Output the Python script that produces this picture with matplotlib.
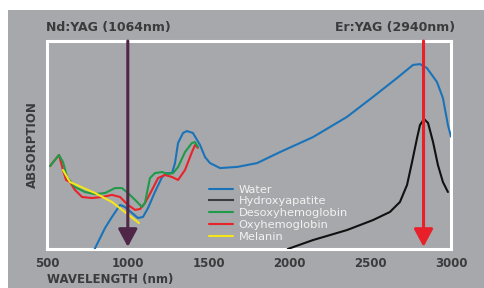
import matplotlib.pyplot as plt
from matplotlib.patches import Rectangle

# wavelength (nm) / relative absorption
water_wl = [795, 859, 902, 952, 983, 1026, 1063, 1094, 1125, 1168, 1212, 1243, 1274, 1292,
            1311, 1342, 1366, 1403, 1447, 1478, 1509, 1571, 1680, 1800, 1942, 2146, 2356,
            2517, 2666, 2765, 2808, 2851, 2913, 2950, 2981, 3000]
water_abs = [0.0, 0.101, 0.154, 0.212, 0.202, 0.173, 0.149, 0.154, 0.197, 0.274, 0.346,
             0.365, 0.365, 0.413, 0.510, 0.558, 0.567, 0.558, 0.500, 0.442, 0.413, 0.389,
             0.395, 0.413, 0.466, 0.538, 0.635, 0.731, 0.822, 0.885, 0.889, 0.870, 0.803,
             0.726, 0.596, 0.54]

hydroxy_wl = [1990, 2146, 2356, 2517, 2622, 2684, 2728, 2759, 2790, 2808, 2833, 2858, 2889,
              2919, 2950, 2981]
hydroxy_abs = [0.0, 0.043, 0.091, 0.139, 0.178, 0.226, 0.308, 0.418, 0.534, 0.596, 0.625,
               0.606, 0.514, 0.404, 0.322, 0.274]

desoxy_wl = [519, 574, 599, 624, 673, 735, 797, 859, 921, 964, 1001, 1045, 1088, 1106, 1137,
             1168, 1212, 1249, 1280, 1311, 1354, 1397, 1416, 1434]
desoxy_abs = [0.399, 0.452, 0.418, 0.346, 0.298, 0.274, 0.264, 0.269, 0.293, 0.293, 0.269,
              0.236, 0.202, 0.221, 0.341, 0.365, 0.370, 0.361, 0.365, 0.394, 0.466, 0.510,
              0.514, 0.490]

oxy_wl = [519, 574, 599, 618, 642, 673, 717, 778, 840, 902, 952, 1001, 1045, 1075, 1106,
          1150, 1187, 1230, 1274, 1311, 1354, 1397, 1416, 1434]
oxy_abs = [0.399, 0.452, 0.380, 0.332, 0.322, 0.284, 0.250, 0.245, 0.250, 0.260, 0.250,
           0.212, 0.188, 0.192, 0.221, 0.284, 0.341, 0.356, 0.346, 0.332, 0.380, 0.466,
           0.500, 0.486]

melanin_wl = [599, 642, 797, 902, 1069]
melanin_abs = [0.380, 0.322, 0.269, 0.226, 0.125]

nd_yag = 1000
er_yag = 2830

bg = "#a7a8ab"
text_dark = "#3b3b3d"

fig = plt.figure(figsize=(4.84, 2.88), dpi=100)
fig.patch.set_facecolor("white")
fig.patches.append(Rectangle((8 / 484, 0), 1, 1 - 10 / 288, transform=fig.transFigure,
                             facecolor=bg, edgecolor="none", zorder=-10))

ax = fig.add_axes([47 / 484, 1 - 249 / 288, 404 / 484, 208 / 288])
ax.set_facecolor(bg)
ax.set_xlim(500, 3000)
ax.set_ylim(0, 1)

kw = dict(lw=1.5, zorder=3, solid_joinstyle="round", solid_capstyle="round")
ax.plot(water_wl, water_abs, color="#1a73b9", **kw)
ax.plot(hydroxy_wl, hydroxy_abs, color="#111111", **kw)
ax.plot(oxy_wl, oxy_abs, color="#e8232a", **kw)
ax.plot(desoxy_wl, desoxy_abs, color="#1e9a48", **kw)
ax.plot(melanin_wl, melanin_abs, color="#f6e51a", **kw)

# legend handles in the picture's order
h = ax.get_lines()
handles = [h[0], plt.Line2D([], [], color="#3d3d3d", lw=1.5), h[3], h[2], h[4]]
labels = ["Water", "Hydroxyapatite", "Desoxyhemoglobin", "Oxyhemoglobin", "Melanin"]
leg = ax.legend(handles, labels, loc="upper left", bbox_to_anchor=(0.4, 0.31),
                frameon=False, fontsize=8.2, handlelength=2.1, handletextpad=0.55,
                labelspacing=0.16, borderpad=0, borderaxespad=0)
for t in leg.get_texts():
    t.set_color("#f2f2f2")

# laser lines
for wl, col in [(nd_yag, "#4f2548"), (er_yag, "#e8202a")]:
    ax.annotate("", xy=(wl, 0.01), xytext=(wl, 1.0),
                arrowprops=dict(arrowstyle="-|>,head_width=0.58,head_length=1.08",
                                mutation_scale=10, color=col, lw=2.2,
                                shrinkA=0, shrinkB=0), zorder=5)

for s in ax.spines.values():
    s.set_color("white")
    s.set_linewidth(2.2)

ax.set_yticks([])
ax.set_xticks([500, 1000, 1500, 2000, 2500, 3000])
ax.tick_params(axis="x", length=0, pad=6, labelsize=8.5, labelcolor=text_dark)
for t in ax.get_xticklabels():
    t.set_fontweight("bold")

ax.set_xlabel("WAVELENGTH (nm)", fontsize=8.5, fontweight="bold", color=text_dark,
              loc="left", labelpad=2)
ax.set_ylabel("ABSORPTION", fontsize=8.5, fontweight="bold", color=text_dark, labelpad=6)

fig.text(46 / 484, 1 - 27 / 288, "Nd:YAG (1064nm)", fontsize=9, fontweight="bold",
         color=text_dark, ha="left", va="center")
fig.text(455 / 484, 1 - 27 / 288, "Er:YAG (2940nm)", fontsize=9, fontweight="bold",
         color=text_dark, ha="right", va="center")

fig.savefig("out.png", dpi=100, facecolor=fig.get_facecolor())
